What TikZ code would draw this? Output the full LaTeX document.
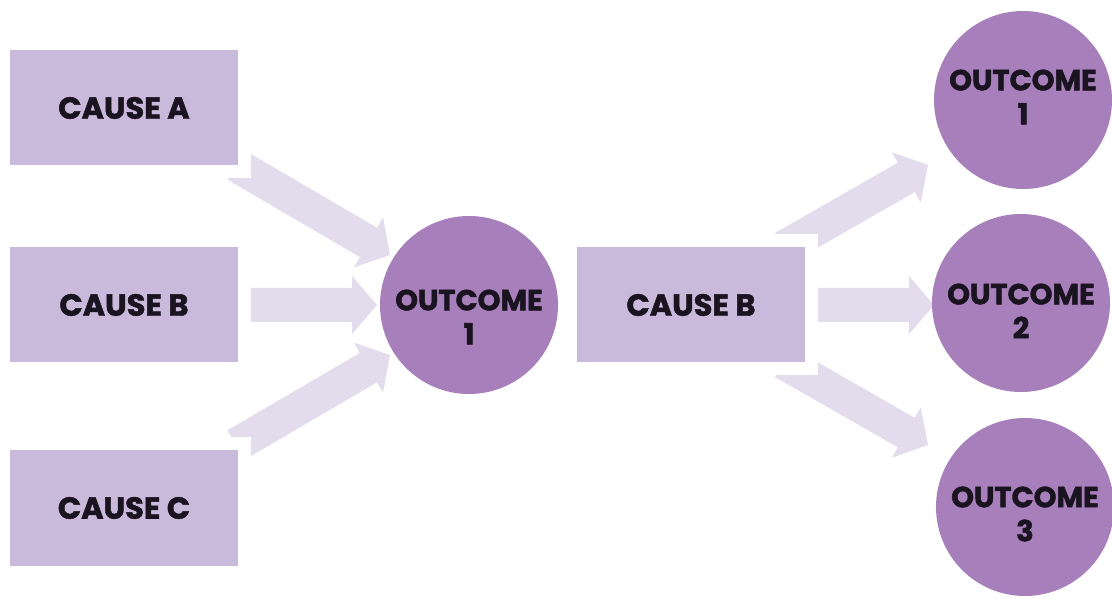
\documentclass[tikz,border=0pt]{standalone}
\usepackage{fontspec}
\setmainfont{Poppins}[BoldFeatures={FakeBold=1.6}]
\usetikzlibrary{calc}
\definecolor{boxc}{HTML}{C9B9DA}
\definecolor{circc}{HTML}{A77FBB}
\definecolor{arrc}{HTML}{E3DCED}
\definecolor{txtc}{HTML}{1A1320}
\tikzset{
  causebox/.style={rectangle, fill=boxc, minimum width=228pt, minimum height=115pt,
    inner sep=0pt, outer sep=0pt, preaction={draw=white, line width=26pt},
    text=txtc, font=\fontsize{30.5}{36}\selectfont\bfseries},
  outcome/.style={circle, fill=circc, minimum size=178pt, inner sep=0pt, outer sep=0pt},
  outtxt/.style={text=txtc, align=center, inner sep=0pt, font=\fontsize{29}{34}\selectfont\bfseries},
}
\newcommand{\blockarrow}[2]{%
  \fill[arrc] ($(#1)!17pt!90:(#2)$) -- ($($(#2)!25pt!(#1)$)!17pt!90:(#2)$)
    -- ($($(#2)!25pt!(#1)$)!29pt!90:(#2)$) -- (#2)
    -- ($($(#2)!25pt!(#1)$)!29pt!-90:(#2)$) -- ($($(#2)!25pt!(#1)$)!17pt!-90:(#2)$)
    -- ($(#1)!17pt!-90:(#2)$) -- cycle;}
\begin{document}
\begin{tikzpicture}[x=1pt,y=-1pt]
\useasboundingbox[fill=white] (0,0) rectangle (1112,601);
% arrow end points
\coordinate (s1) at (236,165); \coordinate (t1) at (390,255);
\coordinate (s2) at (240,305); \coordinate (t2) at (377,305);
\coordinate (s3) at (236,445); \coordinate (t3) at (390,355);
\coordinate (s4) at (783.5,247.7); \coordinate (t4) at (928,165);
\coordinate (s5) at (800,305); \coordinate (t5) at (934,305);
\coordinate (s6) at (783.5,362.3); \coordinate (t6) at (928,445);
\blockarrow{s1}{t1}
\blockarrow{s2}{t2}
\blockarrow{s3}{t3}
\blockarrow{s4}{t4}
\blockarrow{s5}{t5}
\blockarrow{s6}{t6}
% boxes
\node[causebox] (ca) at (124,108) {CAUSE A};
\node[causebox] (cb) at (124,305) {CAUSE B};
\node[causebox] (cc) at (124,508) {CAUSE C};
\node[causebox] (cm) at (691,305) {CAUSE B};
% circles
\node[outcome] (o0) at (469,305) {};
\node[outcome] (o1) at (1023,100) {};
\node[outcome] (o2) at (1021,303) {};
\node[outcome] (o3) at (1025,507) {};
\node[outtxt] (l0) at ($(o0)+(0,12)$) {OUTCOME\\1};
\node[outtxt] (l1) at ($(o1)+(0,-3)$) {OUTCOME\\1};
\node[outtxt] (l2) at ($(o2)+(0,8)$) {OUTCOME\\2};
\node[outtxt] (l3) at ($(o3)+(0,7)$) {OUTCOME\\3};
\end{tikzpicture}
\end{document}
